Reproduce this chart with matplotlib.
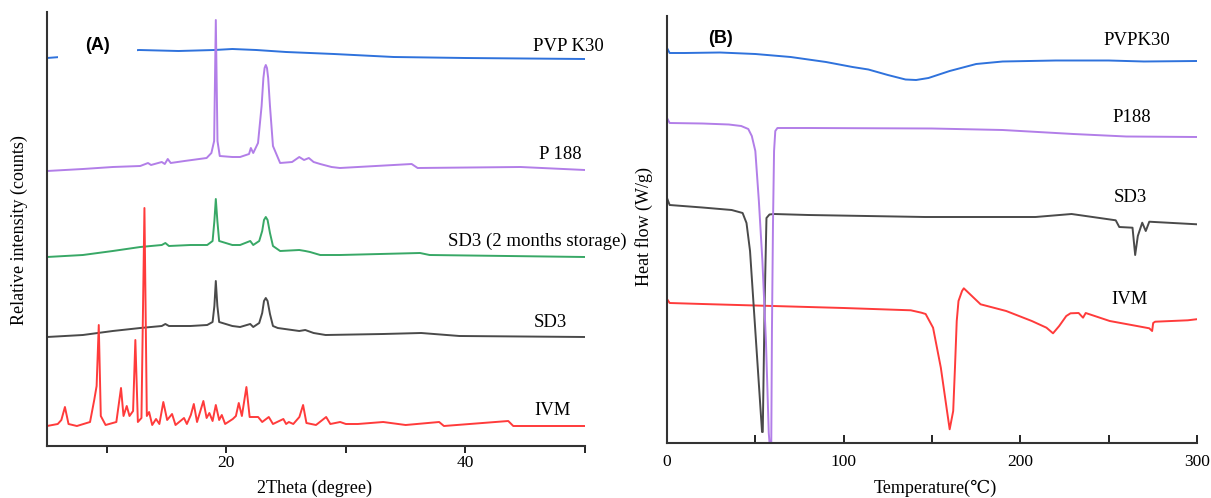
import numpy as np
import matplotlib
matplotlib.use("Agg")
import matplotlib.pyplot as plt

plt.rcParams['font.family'] = ['Liberation Serif', 'DejaVu Serif']

# ---- XRD patterns (2theta in degree, intensity in arbitrary counts, already offset) ----
theta_pvp = [5.0, 6.1, 8.0, 12.7, 16.0, 19.0, 20.5, 22.5, 25.0, 29.0, 34.0, 40.0, 50.0]
int_pvp = [388, 389, 391, 396, 395, 396, 397, 396, 394, 392, 389, 388, 387]

theta_p188 = [5.0, 8.0, 10.5, 12.8, 13.45, 13.7, 14.6, 14.85, 15.1, 15.35, 16.5, 18.35,
              18.75, 18.98, 19.12, 19.26, 19.45, 20.5, 21.15, 21.9, 22.05, 22.25, 22.65,
              22.95, 23.1, 23.2, 23.3, 23.4, 23.5, 23.65, 23.9, 24.5, 25.5, 26.1, 26.5,
              26.9, 27.3, 27.85, 28.8, 29.5, 35.5, 36.0, 44.6, 50.0]
int_p188 = [275, 277, 279, 280, 283, 281, 284, 282, 287, 283, 285, 288,
            293, 305, 426, 305, 290, 289, 289, 292, 298, 293, 303,
            340, 368, 378, 381, 378, 368, 340, 300, 283, 284, 289, 286,
            288, 284, 282, 279, 278, 282, 278, 279, 276]

theta_sd3_stor = [5.0, 8.0, 10.5, 12.8, 14.6, 14.9, 15.2, 17.0, 18.4, 18.85, 19.0, 19.12,
                  19.25, 19.4, 20.5, 21.15, 22.0, 22.25, 22.75, 23.0, 23.15, 23.3, 23.45,
                  23.65, 23.9, 24.5, 26.1, 26.6, 27.0, 27.85, 29.5, 36.2, 37.0, 50.0]
int_sd3_stor = [189, 191, 195, 199, 201, 203, 200, 201, 201, 205, 225, 247,
                225, 205, 201, 201, 205, 201, 205, 215, 226, 229, 226,
                213, 200, 195, 196, 195, 194, 191, 191, 193, 191, 189]

theta_sd3 = [5.0, 8.0, 10.5, 12.8, 14.6, 14.9, 15.2, 17.0, 18.4, 18.85, 19.0, 19.12,
             19.25, 19.4, 20.5, 21.15, 22.0, 22.25, 22.75, 23.0, 23.15, 23.3, 23.45,
             23.65, 23.9, 24.3, 26.1, 26.6, 27.3, 28.3, 33.1, 36.3, 39.5, 50.0]
int_sd3 = [109, 111, 115, 118, 120, 122, 120, 120, 121, 124, 140, 165,
           140, 124, 120, 119, 122, 119, 123, 133, 145, 148, 145,
           132, 120, 118, 115, 116, 113, 111, 112, 113, 110, 109]

theta_ivm = [5.0, 5.9, 6.2, 6.5, 6.8, 7.5, 8.6, 8.95, 9.15, 9.33, 9.5, 9.9, 10.8, 11.19,
             11.4, 11.67, 11.9, 12.2, 12.39, 12.6, 12.9, 13.15, 13.35, 13.54, 13.8, 14.12,
             14.4, 14.73, 15.05, 15.46, 15.75, 16.46, 16.7, 17.03, 17.28, 17.55, 18.08,
             18.35, 18.58, 18.85, 19.12, 19.4, 19.62, 19.9, 20.54, 20.8, 21.04, 21.3,
             21.68, 21.95, 22.41, 22.66, 23.0, 23.55, 23.9, 24.77, 25.0, 25.23, 25.6,
             26.11, 26.42, 26.7, 27.5, 28.35, 28.7, 29.52, 30.0, 31.0, 33.12, 35.0,
             37.8, 38.2, 43.58, 44.0, 50.0]
int_ivm = [20, 22, 26, 39, 22, 20, 24, 46, 60, 121, 30, 21, 24, 58,
           30, 40, 30, 35, 106, 24, 28, 238, 30, 34, 21, 27,
           22, 44, 26, 32, 21, 28, 22, 31, 42, 24, 45,
           28, 33, 25, 41, 26, 31, 22, 27, 30, 43, 30,
           59, 29, 29, 29, 24, 29, 22, 27, 22, 24, 22,
           29, 41, 23, 21, 29, 22, 24, 22, 22, 24, 21,
           24, 20, 25, 20, 20]

# ---- DSC thermograms (temperature in C, heat flow in arbitrary units, offset) ----
temp_pvp = [0, 1.5, 10, 30, 50, 70, 90, 105, 114, 125, 135, 141, 148, 160, 175, 190,
            220, 250, 270, 300]
hf_pvp = [395, 390, 390, 390.5, 389, 386, 381, 376, 373.5, 368, 363.5, 363, 365, 372,
          379, 381.5, 382.5, 382.5, 381.5, 382]

temp_p188 = [0, 1.5, 20, 35, 42, 46, 48, 50, 52, 54, 56, 57.6, 58.3, 59.0, 59.4, 60.0,
             60.6, 61.3, 62.5, 80, 150, 190, 230, 260, 300]
hf_p188 = [325, 320, 319.5, 318.5, 317, 314, 307, 292, 242, 182, 102, 10, -6, -6, 112,
           220, 292, 312, 315, 315, 314.5, 313, 309, 306.5, 306]

temp_sd3 = [0, 1.5, 20, 36.6, 42.8, 45, 47, 50, 53.8, 54.2, 55.3, 56.3, 58, 60.4, 80,
            146, 208.6, 229, 254, 256, 263.5, 265, 266.5, 269, 271, 273, 276, 300]
hf_sd3 = [245, 238, 235.5, 233, 230, 220, 192, 112, 11, 11, 142, 225, 228.5, 229, 228,
          226, 226, 229, 222.7, 216, 215.3, 188, 207, 220.3, 212, 221.3, 221, 218.7]

temp_ivm = [0, 1.5, 20, 60, 100, 138, 144, 146.4, 150.6, 155, 158.5, 160, 162, 163, 164,
            165, 167, 168, 177.5, 192, 206.5, 214.8, 218.5, 222, 226, 228.4, 233, 235.5,
            237, 250.6, 266, 273, 274.6, 275.2, 276.3, 294.8, 299.5]
hf_ivm = [144, 140, 139, 137, 135, 132.7, 130.3, 129, 115.3, 75.3, 32, 13.7, 32, 75.3,
          122, 142, 152, 154.7, 138.7, 132, 122, 115.3, 109.7, 117, 127, 129.7, 130,
          125.3, 130, 122, 117, 114.7, 112, 120, 121.3, 122.7, 123.7]

c_blue = '#2f72dc'
c_purple = '#b27ee8'
c_green = '#38a866'
c_grey = '#4a4a4a'
c_red = '#ff3b3b'
lw = 1.4

fig = plt.figure(figsize=(12.11, 4.98), dpi=100)

# ---------------- (A) XRD ----------------
ax1 = fig.add_axes([47 / 1211, 52 / 498, 538 / 1211, 434 / 498])
ax1.plot(theta_pvp, int_pvp, color=c_blue, lw=lw)
ax1.plot(theta_p188, int_p188, color=c_purple, lw=lw)
ax1.plot(theta_sd3_stor, int_sd3_stor, color=c_green, lw=lw)
ax1.plot(theta_sd3, int_sd3, color=c_grey, lw=lw)
ax1.plot(theta_ivm, int_ivm, color=c_red, lw=lw)

ax1.set_xlim(5, 50)
ax1.set_ylim(0, 434)
ax1.set_xticks([10, 20, 30, 40, 50])
ax1.set_xticklabels(['', '20', '', '40', ''])
ax1.set_yticks([])
ax1.tick_params(axis='x', direction='out', length=5, width=1.2, pad=1.5, labelsize=12.5)
ax1.set_xlabel('2Theta (degree)', fontsize=13)
ax1.xaxis.set_label_coords(0.498, -0.078)
ax1.set_ylabel('Relative intensity (counts)', fontsize=13)
ax1.yaxis.set_label_coords(-0.036, 0.498)

ax1.text(48.6, 400, 'PVP K30', fontsize=13.5, ha='center', va='center')
ax1.text(47.9, 292, 'P 188', fontsize=13.5, ha='center', va='center')
ax1.text(46.0, 205, 'SD3 (2 months storage)', fontsize=13.5, ha='center', va='center')
ax1.text(47.1, 124, 'SD3', fontsize=13.5, ha='center', va='center')
ax1.text(47.3, 36, 'IVM', fontsize=13.5, ha='center', va='center')
ax1.text(9.2, 401, '(A)', fontsize=13, fontweight='bold', family='Liberation Sans',
         ha='center', va='center', zorder=5,
         bbox=dict(boxstyle='square,pad=1.5', fc='white', ec='none'))

# ---------------- (B) DSC ----------------
ax2 = fig.add_axes([667 / 1211, 55 / 498, 530 / 1211, 427 / 498])
ax2.plot(temp_pvp, hf_pvp, color=c_blue, lw=lw)
ax2.plot(temp_ivm, hf_ivm, color=c_red, lw=lw)
ax2.plot(temp_sd3, hf_sd3, color=c_grey, lw=lw)
ax2.plot(temp_p188, hf_p188, color=c_purple, lw=lw)

ax2.set_xlim(0, 300)
ax2.set_ylim(0, 427)
ax2.set_xticks([0, 50, 100, 150, 200, 250, 300])
ax2.set_xticklabels(['0', '', '100', '', '200', '', '300'])
ax2.set_yticks([])
ax2.tick_params(axis='x', direction='in', length=6, width=1.2, pad=8, labelsize=12.5)
ax2.set_xlabel('Temperature(℃)', fontsize=13)
ax2.xaxis.set_label_coords(0.506, -0.086)
ax2.set_ylabel('Heat flow (W/g)', fontsize=13)
ax2.yaxis.set_label_coords(-0.026, 0.506)

ax2.text(266, 402, 'PVPK30', fontsize=13.5, ha='center', va='center')
ax2.text(263, 326, 'P188', fontsize=13.5, ha='center', va='center')
ax2.text(262.5, 245, 'SD3', fontsize=13.5, ha='center', va='center')
ax2.text(262, 144, 'IVM', fontsize=13.5, ha='center', va='center')
ax2.text(30, 404, '(B)', fontsize=13, fontweight='bold', family='Liberation Sans',
         ha='center', va='center')

for ax in (ax1, ax2):
    for side in ('top', 'right'):
        ax.spines[side].set_visible(False)
    for side in ('left', 'bottom'):
        ax.spines[side].set_linewidth(1.5)
        ax.spines[side].set_color('#333333')

fig.savefig('out.png', dpi=100)
